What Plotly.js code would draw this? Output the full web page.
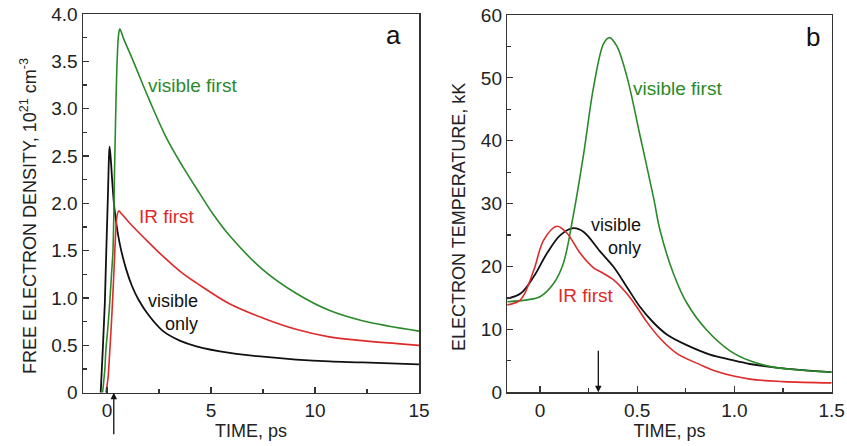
<!DOCTYPE html>
<html>
<head>
<meta charset="utf-8">
<script src="https://cdn.plot.ly/plotly-3.0.1.min.js"></script>
<style>html,body{margin:0;padding:0;background:#fff;}#chart{width:847px;height:446px;}</style>
</head>
<body>
<div id="chart"></div>
<script>
// ---------- Panel a: free electron density (10^21 cm^-3) vs time (ps) ----------
const aVisOnlyT = [-0.30,-0.20,-0.10,-0.03,0.05,0.10,0.13,0.20,0.25,0.37,0.61,0.93,1.20,1.50,2.00,2.70,3.50,4.30,5.90,7.50,9.09,10.70,12.28,15.0];
const aVisOnlyN = [0,0.45,0.95,1.50,2.10,2.50,2.60,2.42,2.25,1.93,1.58,1.30,1.13,0.99,0.82,0.65,0.55,0.49,0.42,0.38,0.35,0.33,0.32,0.30];

const aVisFirstT = [-0.21,-0.10,-0.05,0.05,0.15,0.22,0.29,0.38,0.49,0.56,0.62,0.80,1.25,2.04,2.84,3.64,4.44,5.09,5.89,7.49,9.09,10.68,12.28,15.0];
const aVisFirstN = [0,0.25,0.45,0.70,1.00,1.25,1.50,2.50,3.50,3.78,3.84,3.74,3.51,3.09,2.70,2.39,2.11,1.89,1.66,1.30,1.05,0.87,0.76,0.65];

const aIRFirstT = [-0.05,0.05,0.14,0.22,0.30,0.36,0.42,0.48,0.57,0.70,1.10,2.04,2.70,3.64,4.30,5.89,7.49,9.09,10.68,12.28,15.0];
const aIRFirstN = [0,0.15,0.45,0.75,1.10,1.40,1.68,1.86,1.92,1.89,1.79,1.58,1.44,1.26,1.16,0.94,0.79,0.67,0.59,0.55,0.50];

// ---------- Panel b: electron temperature (kK) vs time (ps) ----------
const bVisOnlyT = [-0.17,-0.10,-0.032,0.036,0.105,0.173,0.225,0.309,0.377,0.446,0.514,0.583,0.652,0.755,0.874,0.977,1.08,1.25,1.5];
const bVisOnlyK = [14.9,15.7,18.4,22.1,25.0,26.1,25.5,22.4,20.0,16.8,13.6,11.1,9.2,7.5,6.0,5.2,4.5,3.8,3.2];

const bVisFirstT = [-0.17,-0.067,0,0.07,0.12,0.17,0.225,0.276,0.328,0.358,0.396,0.447,0.516,0.585,0.617,0.686,0.755,0.857,0.977,1.08,1.2,1.35,1.5];
const bVisFirstK = [14.4,14.7,15.2,17.3,20.5,27.9,38.0,48.6,55.5,56.4,55.0,50.2,40.6,30.8,25.8,18.9,14.2,9.9,6.6,5.0,4.0,3.5,3.2];

const bIRFirstT = [-0.17,-0.10,-0.032,0.019,0.087,0.139,0.207,0.276,0.309,0.377,0.446,0.497,0.549,0.617,0.703,0.823,0.909,1.08,1.25,1.5];
const bIRFirstK = [13.9,14.7,19.4,24.2,26.4,25.3,22.1,19.8,19.2,17.9,15.7,13.6,11.2,8.6,6.2,4.4,3.3,2.1,1.7,1.5];

// tick labels
const aXTicks = [0,5,10,15];        const aXTickText = ["0","5","10","15"];
const aYTicks = [0,0.5,1,1.5,2,2.5,3,3.5,4]; const aYTickText = ["0","0.5","1.0","1.5","2.0","2.5","3.0","3.5","4.0"];
const bXTicks = [0,0.5,1,1.5];      const bXTickText = ["0","0.5","1.0","1.5"];
const bYTicks = [0,10,20,30,40,50,60]; const bYTickText = ["0","10","20","30","40","50","60"];

// pump arrows (time, ps)
const arrowTimeA = 0.33;
const arrowTimeB = 0.30;

const GREEN = '#2a8a2a', RED = '#dd2a2a', BLACK = '#111111';
const FONT = 'Liberation Sans, Arial, sans-serif';

function line(x, y, color, xa, ya, w) {
  return {x: x, y: y, type: 'scatter', mode: 'lines', xaxis: xa, yaxis: ya,
          line: {color: color, width: w, shape: 'spline', smoothing: 1.0},
          hoverinfo: 'skip', showlegend: false};
}

const data = [
  line(aVisOnlyT, aVisOnlyN, BLACK, 'x', 'y', 1.8),
  line(aVisFirstT, aVisFirstN, GREEN, 'x', 'y', 1.6),
  line(aIRFirstT, aIRFirstN, RED, 'x', 'y', 1.6),
  line(bVisOnlyT, bVisOnlyK, BLACK, 'x2', 'y2', 1.8),
  line(bVisFirstT, bVisFirstK, GREEN, 'x2', 'y2', 1.6),
  line(bIRFirstT, bIRFirstK, RED, 'x2', 'y2', 1.6)
];

function axisBase() {
  return {showgrid: false, zeroline: false, showline: true, mirror: true,
          linecolor: '#333', linewidth: 1.5, ticks: 'inside', ticklen: 6,
          tickwidth: 1.2, tickcolor: '#333', tickmode: 'array',
          tickfont: {family: FONT, size: 19, color: '#222'}, fixedrange: true};
}

function txt(xref, yref, x, y, text, color, size, xanchor, extra) {
  return Object.assign({xref: xref, yref: yref, x: x, y: y, text: text, showarrow: false,
    xanchor: xanchor || 'left', yanchor: 'middle',
    font: {family: FONT, size: size, color: color}}, extra || {});
}

const layout = {
  width: 847, height: 446,
  margin: {l: 0, r: 0, t: 0, b: 0},
  paper_bgcolor: '#fff', plot_bgcolor: '#fff',
  font: {family: FONT, color: '#222'},
  xaxis: Object.assign(axisBase(), {
    domain: [83/847, 419/847], anchor: 'y', range: [-1.15, 15],
    tickvals: aXTicks, ticktext: aXTickText,
    minor: {ticks: 'inside', ticklen: 4, tick0: 0, dtick: 2.5, tickcolor: '#333', tickwidth: 1.2},
    title: {text: 'TIME, ps', font: {family: FONT, size: 18, color: '#222'}, standoff: 2}
  }),
  yaxis: Object.assign(axisBase(), {
    domain: [1 - 392.7/446, 1 - 14/446], anchor: 'x', range: [0, 4.0],
    tickvals: aYTicks, ticktext: aYTickText,
    minor: {ticks: 'inside', ticklen: 4, tick0: 0, dtick: 0.25, tickcolor: '#333', tickwidth: 1.2}
  }),
  xaxis2: Object.assign(axisBase(), {
    domain: [507.3/847, 831.7/847], anchor: 'y2', range: [-0.168, 1.5],
    tickvals: bXTicks, ticktext: bXTickText,
    minor: {ticks: 'inside', ticklen: 4, tick0: 0, dtick: 0.25, tickcolor: '#333', tickwidth: 1.2},
    title: {text: 'TIME, ps', font: {family: FONT, size: 18, color: '#222'}, standoff: 2}
  }),
  yaxis2: Object.assign(axisBase(), {
    domain: [1 - 392.3/446, 1 - 15/446], anchor: 'x2', range: [0, 60],
    tickvals: bYTicks, ticktext: bYTickText,
    minor: {ticks: 'inside', ticklen: 4, tick0: 0, dtick: 5, tickcolor: '#333', tickwidth: 1.2}
  }),
  annotations: [
    // y-axis titles
    txt('paper', 'paper', 28/847, 1 - 216/446, 'FREE ELECTRON DENSITY, 10<sup>21</sup> cm<sup>-3</sup>', '#222', 18, 'center', {textangle: -90}),
    txt('paper', 'paper', 459/847, 1 - 217/446, 'ELECTRON TEMPERATURE, kK', '#222', 18, 'center', {textangle: -90}),
    // panel letters
    txt('x domain', 'y domain', 0.923, 0.945, 'a', '#111', 26, 'center'),
    txt('x2 domain', 'y2 domain', 0.942, 0.942, 'b', '#111', 26, 'center'),
    // curve labels, panel a
    txt('x', 'y', 1.9, 3.25, 'visible first', GREEN, 19),
    txt('x', 'y', 1.45, 1.86, 'IR first', RED, 19),
    txt('x', 'y', 4.45, 0.85, 'visible<br>only', BLACK, 18, 'right', {align: 'right'}),
    // curve labels, panel b
    txt('x2', 'y2', 0.47, 48.3, 'visible first', GREEN, 19),
    txt('x2', 'y2', 0.532, 24.7, 'visible<br>only', BLACK, 18, 'right', {align: 'right'}),
    txt('x2', 'y2', 0.08, 15.4, 'IR first', RED, 19),
    // pump arrows
    {xref: 'x', yref: 'y', x: arrowTimeA, y: 0, ax: 0, ay: 43, showarrow: true,
     arrowhead: 2, arrowsize: 1, arrowwidth: 1.3, arrowcolor: '#111', text: ''},
    {xref: 'x2', yref: 'y2', x: arrowTimeB, y: 0, ax: 0, ay: -43, showarrow: true,
     arrowhead: 2, arrowsize: 1, arrowwidth: 1.3, arrowcolor: '#111', text: ''}
  ]
};

Plotly.newPlot('chart', data, layout, {staticPlot: true, displayModeBar: false});
</script>
</body>
</html>
